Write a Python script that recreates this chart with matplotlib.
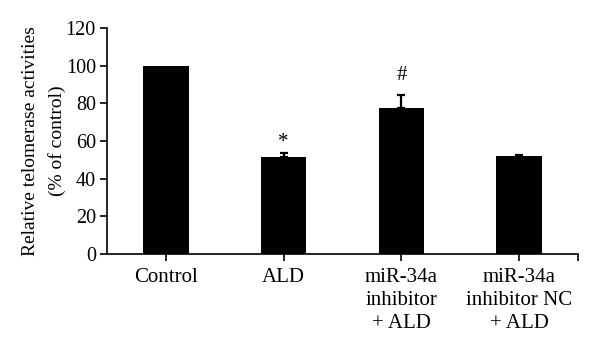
import matplotlib.pyplot as plt

categories = ['Control', 'ALD', 'miR-34a\ninhibitor\n+ ALD', 'miR-34a\ninhibitor NC\n+ ALD']
values = [100, 51.7, 77.5, 52.2]
errors = [0, 1.8, 7.0, 0.5]
marks = ['', '*', '#', '']
mark_y = [0, 59, 95, 0]

plt.rcParams['font.family'] = ['Liberation Serif', 'DejaVu Serif']
plt.rcParams['font.size'] = 14

fig = plt.figure(figsize=(6, 3.51), dpi=100)
ax = fig.add_axes([107 / 600, (351 - 254) / 351, (578 - 107) / 600, 226 / 351])

x = list(range(len(categories)))
ax.bar(x, values, width=0.385, color='black', zorder=2)
# only bars with an error get a whisker
ex = [i for i in x if errors[i] > 0]
ax.errorbar(ex, [values[i] for i in ex], yerr=[[0] * len(ex), [errors[i] for i in ex]],
            fmt='none', ecolor='black', elinewidth=1.6, capsize=3, capthick=1.6, zorder=1)
for i in x:
    if marks[i]:
        ax.text(i, mark_y[i], marks[i], ha='center', va='center', fontsize=15)

ax.set_xlim(-0.5, 3.5)
ax.set_ylim(0, 120)
ax.set_yticks(range(0, 121, 20))
ax.set_xticks(x)
ax.set_xticklabels(categories, linespacing=1.3, fontsize=15)
ax.set_xticks([3.5], minor=True)
ax.tick_params(axis='x', which='both', direction='out', length=5, width=1.2, pad=5)
ax.tick_params(axis='y', direction='out', length=5, width=1.2, pad=3, labelsize=14.5)
ax.spines['top'].set_visible(False)
ax.spines['right'].set_visible(False)
ax.spines['left'].set_linewidth(1.2)
ax.spines['bottom'].set_linewidth(1.2)
ax.set_ylabel('Relative telomerase activities\n(% of control)', linespacing=1.6, labelpad=0)

fig.savefig('out.png', dpi=100)
